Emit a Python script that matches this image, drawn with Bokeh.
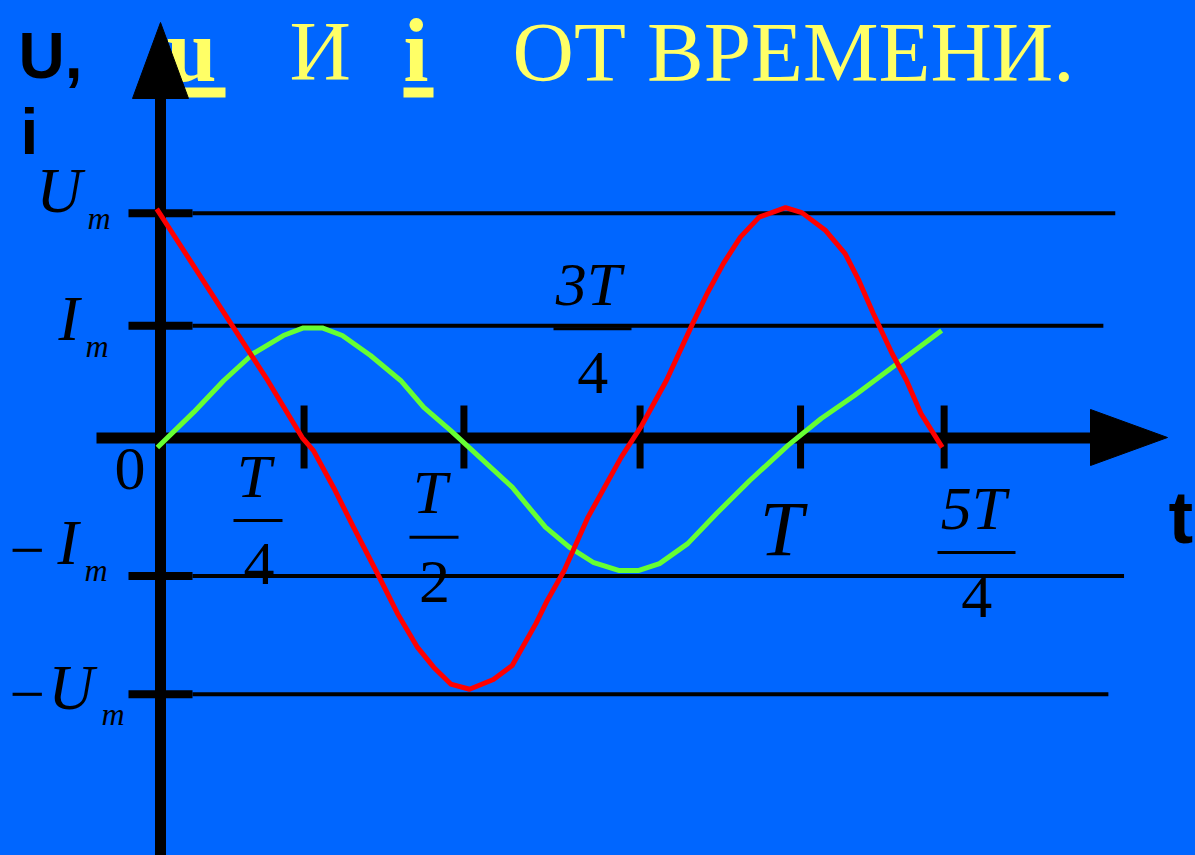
from bokeh.plotting import figure
from bokeh.models import Range1d
from bokeh.core.properties import value
from bokeh.embed import file_html
from bokeh.resources import INLINE

# ---------------- data (t in units of T, u and i in units of Um) ----------------
t_u = [-0.006, 0.171, 0.226, 0.244, 0.276, 0.308, 0.346, 0.378, 0.410, 0.436, 0.463,
       0.493, 0.531, 0.561, 0.599, 0.617, 0.644, 0.682, 0.735, 0.766, 0.807, 0.849,
       0.872, 0.898, 0.925, 0.955, 0.997, 1.023, 1.061, 1.092, 1.114, 1.137, 1.167,
       1.190, 1.213, 1.247]
u_vals = [1.02, 0.256, 0.002, -0.056, -0.220, -0.398, -0.603, -0.781, -0.932, -1.021,
          -1.095, -1.118, -1.075, -1.012, -0.825, -0.723, -0.590, -0.352, -0.085, 0.048,
          0.256, 0.510, 0.643, 0.777, 0.894, 0.983, 1.025, 1.003, 0.923, 0.821, 0.701,
          0.554, 0.376, 0.256, 0.109, -0.042]

t_i = [-0.005, 0.053, 0.101, 0.148, 0.196, 0.228, 0.258, 0.290, 0.335, 0.383, 0.420,
       0.463, 0.561, 0.614, 0.652, 0.690, 0.732, 0.762, 0.796, 0.841, 0.887, 0.940,
       1.001, 1.054, 1.107, 1.145, 1.246]
i_vals = [-0.042, 0.115, 0.256, 0.376, 0.456, 0.490, 0.490, 0.456, 0.367, 0.256, 0.136,
          0.033, -0.219, -0.397, -0.486, -0.553, -0.590, -0.590, -0.559, -0.470, -0.336,
          -0.189, -0.033, 0.087, 0.189, 0.268, 0.478]

tick_t = [0.229, 0.484, 0.765, 1.021, 1.250]
tick_num = ["T", "T", "3T", "T", "5T"]
tick_den = ["4", "2", "4", "", "4"]

level_vals = [1.0, 0.5, -0.614, -1.140]
level_ends = [1.523, 1.504, 1.537, 1.512]

title_parts = ["u", "И", "i", "ОТ ВРЕМЕНИ."]

# ---------------- layout helpers (reference pixel -> data) ----------------
OX, OY = 160.0, 437.5
PXT, PXU = 626.9, 224.7
W, H = 1195, 855


def X(px):
    return (px - OX) / PXT


def Y(py):
    return (OY - py) / PXU


BG = "#0066FF"
SERIF = value("Liberation Serif")
SANS = value("Liberation Sans")

p = figure(width=W, height=H,
           x_range=Range1d(X(0), X(W)), y_range=Range1d(Y(H), Y(0)),
           output_backend="svg", toolbar_location=None, min_border=0,
           x_axis_location=None, y_axis_location=None,
           background_fill_color=BG, border_fill_color=BG, outline_line_color=None)
p.xgrid.visible = False
p.ygrid.visible = False

BASE_FIX = 0.35  # renderer places the alphabetic baseline this many em too low


def txt(texts, xs, ys, size, font=SERIF, style="normal", align="left", color="black"):
    p.text(x=[X(v) for v in xs], y=[Y(v - BASE_FIX * size) for v in ys], text=texts,
           text_font=font, text_font_size=f"{size}px", text_font_style=style,
           text_align=align, text_baseline="alphabetic", text_color=color)


# title (drawn first: the axis arrow lies over it)
txt([title_parts[0]], [166], [81], 90, style="bold", color="#FFFF66")
txt([title_parts[1]], [289], [80], 85, color="#FFFF66")
txt([title_parts[2]], [403], [81], 90, style="bold", color="#FFFF66")
txt([title_parts[3]], [512], [81], 85, color="#FFFF66")
p.segment(x0=[X(177), X(403)], y0=[Y(92)] * 2, x1=[X(225), X(433)], y1=[Y(92)] * 2,
          line_color="#FFFF66", line_width=10)

# level lines and their ticks on the vertical axis
p.segment(x0=[X(192)] * 4, y0=level_vals, x1=level_ends, y1=level_vals,
          line_color="black", line_width=4)
p.segment(x0=[X(128)] * 4, y0=level_vals, x1=[X(192)] * 4, y1=level_vals,
          line_color="black", line_width=8)

# axes
p.segment(x0=[0], y0=[Y(870)], x1=[0], y1=[Y(97)], line_color="black", line_width=11)
p.patch(x=[X(132), X(188), X(160)], y=[Y(98), Y(98), Y(22)], color="black")
p.segment(x0=[X(96)], y0=[0], x1=[X(1092)], y1=[0], line_color="black", line_width=11)
p.patch(x=[X(1090), X(1090), X(1167)], y=[Y(409), Y(465), Y(437)], color="black")

# ticks on time axis
p.segment(x0=tick_t, y0=[Y(405)] * 5, x1=tick_t, y1=[Y(468)] * 5,
          line_color="black", line_width=7)

# curves
p.line(t_i, i_vals, line_color="#66FF33", line_width=5, line_join="round")
p.line(t_u, u_vals, line_color="#FF0000", line_width=5, line_join="round")

# axis names
txt(["U,", "i"], [18, 20], [78, 154], 64, font=SANS, style="bold")
txt(["t"], [1168], [543], 74, font=SANS, style="bold")

# level labels
txt(["U", "I", "I", "U"], [36, 58, 57, 48], [213, 341, 565, 710], 63, style="italic")
txt(["m", "m", "m", "m"], [87, 85, 84, 101], [229, 357, 581, 725], 32, style="italic")
txt(["\u2212", "\u2212"], [9, 9], [572, 716], 63)
txt(["0"], [114], [490], 62)

# time tick labels (fractions)
txt(tick_num[:3] + tick_num[4:], [253.5, 429.5, 588, 973], [497, 512.7, 305, 529],
    62, style="italic", align="center")
txt([tick_num[3]], [781], [555], 78, style="italic", align="center")
dens = [d for d in tick_den if d]
txt(dens, [258.5, 434, 592.3, 976.3], [585, 602.7, 394, 618], 62, align="center")
p.segment(x0=[X(233), X(409), X(553), X(937)], y0=[Y(520), Y(536.7), Y(328.3), Y(552)],
          x1=[X(282), X(458), X(631), X(1015)], y1=[Y(520), Y(536.7), Y(328.3), Y(552)],
          line_color="black", line_width=3)

html = file_html(p, INLINE)
html = html.replace("</head>", "<style>html,body{background:#0066FF;}</style></head>", 1)
open("out.html", "w").write(html)
